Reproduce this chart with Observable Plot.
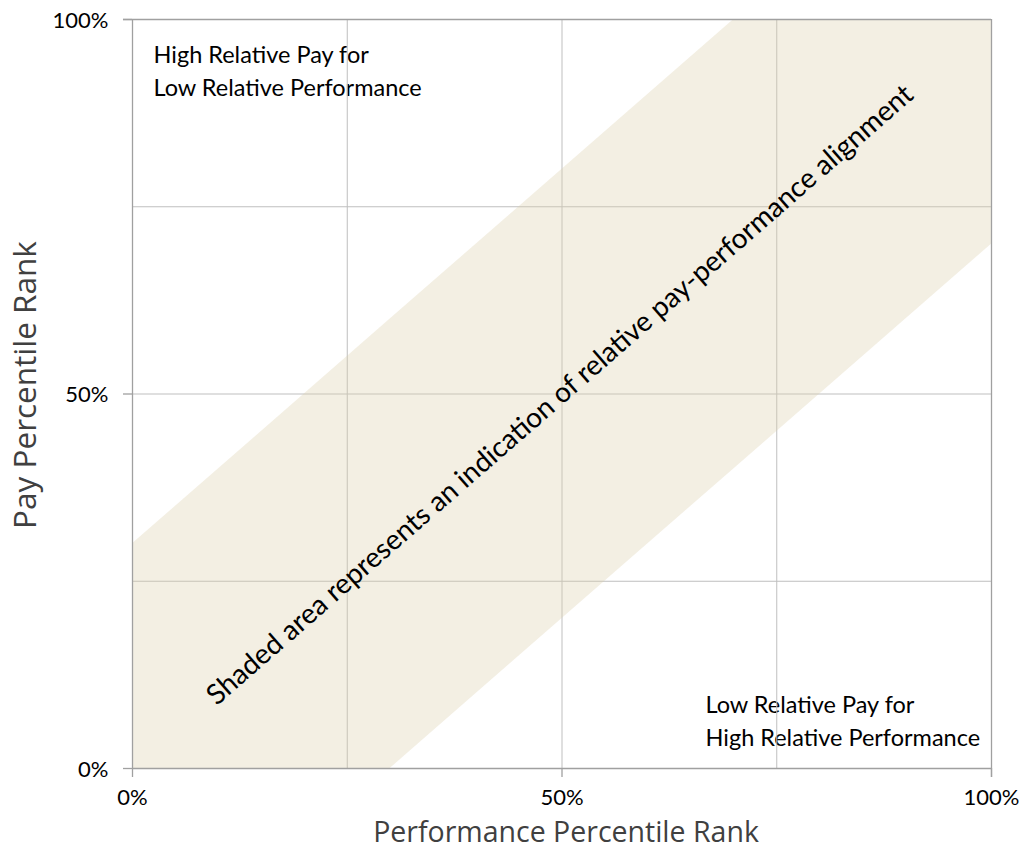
<!DOCTYPE html>
<html>
<head>
<meta charset="utf-8">
<script src="https://cdn.jsdelivr.net/npm/d3@7"></script>
<script src="https://cdn.jsdelivr.net/npm/@observablehq/plot@0.6"></script>
<style>
  html, body { margin: 0; padding: 0; background: #fff; }
  #chart svg { display: block; }
</style>
</head>
<body>
<div id="chart"></div>
<script>
// Alignment band: pay rank within ±30 points of performance rank
const bandX    = [0, 30, 70, 100];
const bandLow  = [0, 0, 40, 70];
const bandHigh = [30, 60, 100, 100];

const gridLines  = [25, 50, 75];
const axisTicks  = [0, 50, 100];
const tickLabels = ["0%", "50%", "100%"];

const cornerTopLeft     = "High Relative Pay for\nLow Relative Performance";
const cornerBottomRight = "Low Relative Pay for\nHigh Relative Performance";
const bandNote = "Shaded area represents an indication of relative pay-performance alignment";

const xTitle = "Performance Percentile Rank";
const yTitle = "Pay Percentile Rank";

const W = 1019, H = 850;
const margin = {top: 19, right: 28, bottom: 82, left: 132};
const innerW = W - margin.left - margin.right;
const innerH = H - margin.top - margin.bottom;
const diagAngle = -Math.atan2(innerH, innerW) * 180 / Math.PI;

const band = bandX.map((x, i) => ({x, low: bandLow[i], high: bandHigh[i]}));
const labelFont = "Lato, 'Open Sans', sans-serif";
const titleFont = "'Open Sans', sans-serif";
const axisColor = "#a0a0a0";

const chart = Plot.plot({
  width: W,
  height: H,
  marginTop: margin.top,
  marginRight: margin.right,
  marginBottom: margin.bottom,
  marginLeft: margin.left,
  style: {fontFamily: labelFont, fontSize: "21px", background: "#fff", color: "#000"},
  x: {domain: [0, 100]},
  y: {domain: [0, 100]},
  marks: [
    // quadrant notes
    Plot.text([cornerTopLeft], {
      frameAnchor: "top-left", dx: 21, dy: 21,
      textAnchor: "start", lineAnchor: "top", lineHeight: 1.37,
      fontSize: 23.5, fill: "#000", fontFamily: labelFont
    }),
    Plot.text([cornerBottomRight], {
      frameAnchor: "bottom-right", dx: -286, dy: -23,
      textAnchor: "start", lineAnchor: "bottom", lineHeight: 1.37,
      fontSize: 23.5, fill: "#000", fontFamily: labelFont
    }),
    // gridlines
    Plot.ruleX(gridLines, {stroke: "#bfbfbf", strokeWidth: 1}),
    Plot.ruleY(gridLines, {stroke: "#bfbfbf", strokeWidth: 1}),
    // alignment band
    Plot.areaY(band, {x: "x", y1: "low", y2: "high", fill: "#dccfae", fillOpacity: 0.34}),
    // band annotation
    Plot.text([bandNote], {
      x: () => 50, y: () => 50, dx: -2, dy: 1, rotate: diagAngle,
      fontSize: 28, fill: "#000", fontFamily: labelFont
    }),
    // frame top/right and axis lines
    Plot.ruleY([100], {x1: -1.05, x2: 100, stroke: axisColor, strokeWidth: 1.3}),
    Plot.ruleX([100], {y1: -1.2, y2: 100, stroke: axisColor, strokeWidth: 1.3}),
    Plot.ruleX([0], {stroke: axisColor, strokeWidth: 1.3}),
    Plot.ruleY([0], {stroke: axisColor, strokeWidth: 1.3}),
    // tick marks
    Plot.axisX(axisTicks, {
      tickSize: 9, stroke: axisColor, strokeWidth: 1.3,
      tickFormat: () => "", label: null
    }),
    Plot.axisY(axisTicks, {
      tickSize: 9, stroke: axisColor, strokeWidth: 1.3,
      tickFormat: () => "", label: null
    }),
    // tick labels
    Plot.text(axisTicks, {
      x: d => d, text: (d, i) => tickLabels[i],
      frameAnchor: "bottom", lineAnchor: "top", dy: 21,
      fontSize: 22, fill: "#000", fontFamily: labelFont
    }),
    Plot.text(axisTicks, {
      y: d => d, text: (d, i) => tickLabels[i],
      frameAnchor: "left", textAnchor: "end", lineAnchor: "middle", dx: -24, dy: 1,
      fontSize: 22, fill: "#000", fontFamily: labelFont
    }),
    // axis titles
    Plot.text([xTitle], {
      frameAnchor: "bottom", dx: 4, dy: 73, lineAnchor: "bottom", textAnchor: "middle",
      fontSize: 28.5, fill: "#404040", fontFamily: titleFont
    }),
    Plot.text([yTitle], {
      frameAnchor: "left", dx: -107, dy: -9, rotate: -90,
      textAnchor: "middle", lineAnchor: "middle",
      fontSize: 31.5, fill: "#404040", fontFamily: titleFont
    })
  ]
});

document.getElementById("chart").appendChild(chart);
</script>
</body>
</html>
